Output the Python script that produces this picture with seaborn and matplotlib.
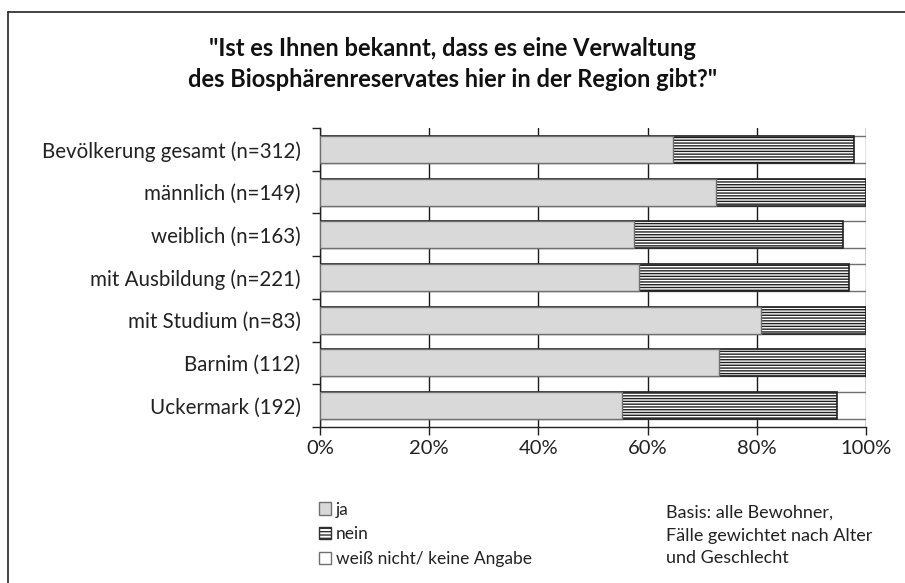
import numpy as np
import pandas as pd
import matplotlib.pyplot as plt
import matplotlib.patches as mpatches
from matplotlib.lines import Line2D
import seaborn as sns

# data (percent)
categories = ['Bevölkerung gesamt (n=312)', 'männlich (n=149)', 'weiblich (n=163)',
              'mit Ausbildung (n=221)', 'mit Studium (n=83)', 'Barnim (112)', 'Uckermark (192)']
ja = [64.7, 72.5, 57.6, 58.4, 80.7, 73.0, 55.4]
nein = [33.1, 27.5, 38.2, 38.5, 19.3, 27.0, 39.3]
weiss_nicht = [2.2, 0.0, 4.2, 3.1, 0.0, 0.0, 5.3]
xticks = [0, 20, 40, 60, 80, 100]

df = pd.DataFrame({'cat': categories, 'ja': ja, 'nein': nein, 'wn': weiss_nicht})
df['cum_nein'] = df['ja'] + df['nein']
df['cum_wn'] = df['cum_nein'] + df['wn']

sns.set_theme(style='white')
plt.rcParams['font.family'] = ['Lato', 'DejaVu Sans']
plt.rcParams['hatch.linewidth'] = 1.0
plt.rcParams['hatch.color'] = '#1a1a1a'

fig = plt.figure(figsize=(9.05, 5.83), dpi=100)
ax = fig.add_axes([320 / 905, 1 - 427 / 583, 546 / 905, 299 / 583])

bw = 0.63
# draw the stack back to front
sns.barplot(data=df, x='cum_wn', y='cat', color='white', edgecolor='#707070',
            linewidth=1.0, width=bw, ax=ax, zorder=3)
n_before = len(ax.patches)
sns.barplot(data=df, x='cum_nein', y='cat', color='white', edgecolor='#202020',
            linewidth=1.2, width=bw, ax=ax, zorder=3)
for p in ax.patches[n_before:]:
    p.set_hatch('------')
sns.barplot(data=df, x='ja', y='cat', color='#d9d9d9', edgecolor='#707070',
            linewidth=1.0, width=bw, ax=ax, zorder=3)

ax.set_xlim(0, 100)
ax.set_ylim(len(categories) - 0.5, -0.5)
ax.set_xticks(xticks)
ax.set_xticklabels([f'{t}%' for t in xticks], fontsize=14.5, color='#222222')
ax.set_xlabel('')
ax.set_ylabel('')
ax.tick_params(axis='y', which='major', length=0, pad=14, labelsize=14.8, labelcolor='#222222')
ax.set_yticks(np.arange(-0.5, len(categories), 1.0), minor=True)
ax.tick_params(axis='y', which='minor', length=6, width=1, color='#222222', left=True)
ax.tick_params(axis='x', length=6, width=1, color='#222222', bottom=True, pad=3)
ax.xaxis.grid(True, color='#1a1a1a', linewidth=1.0, zorder=0)
ax.set_axisbelow(True)
for s in ['top', 'right']:
    ax.spines[s].set_visible(False)
for s in ['left', 'bottom']:
    ax.spines[s].set_color('#222222')
    ax.spines[s].set_linewidth(1.0)

fig.text(0.5, 1 - 48 / 583, '"Ist es Ihnen bekannt, dass es eine Verwaltung',
         ha='center', va='center', fontsize=17, fontweight='bold', color='#111111')
fig.text(0.5, 1 - 80 / 583, 'des Biosphärenreservates hier in der Region gibt?"',
         ha='center', va='center', fontsize=17, fontweight='bold', color='#111111')

handles = [mpatches.Patch(facecolor='#d9d9d9', edgecolor='#707070', label='ja'),
           mpatches.Patch(facecolor='white', edgecolor='#303030', hatch='-----', label='nein'),
           mpatches.Patch(facecolor='white', edgecolor='#707070', label='weiß nicht/ keine Angabe')]
fig.legend(handles=handles, loc='upper left', bbox_to_anchor=(303 / 905, 1 - 486 / 583),
           frameon=False, fontsize=12.5, handlelength=0.7, handleheight=0.7,
           handletextpad=0.3, labelspacing=0.5, labelcolor='#222222')

fig.text(666 / 905, 1 - 505 / 583, 'Basis: alle Bewohner,\nFälle gewichtet nach Alter\nund Geschlecht',
         ha='left', va='top', fontsize=13, color='#222222', linespacing=1.5)

# frame lines at top and left like the cropped original
fig.add_artist(Line2D([8 / 905, 8 / 905], [0, 1 - 12 / 583], color='#222222', linewidth=1.2))
fig.add_artist(Line2D([8 / 905, 1], [1 - 12 / 583, 1 - 12 / 583], color='#222222', linewidth=1.2))

fig.savefig('out.png', dpi=100)
